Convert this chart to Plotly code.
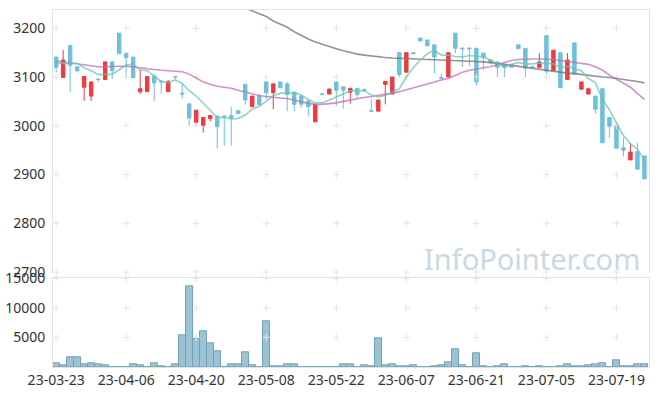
import plotly.graph_objects as go

# ---- data ----
tick_labels = ["23-03-23", "23-04-06", "23-04-20", "23-05-08", "23-05-22",
               "23-06-07", "23-06-21", "23-07-05", "23-07-19"]
tick_pos = [0, 10, 20, 30, 40, 50, 60, 70, 80]

opens = [3141, 3099, 3165, 3121, 3079, 3061, 3096, 3095, 3131, 3190,
         3149, 3141, 3070, 3070, 3102, 3092, 3070, 3101, 3067, 3045,
         3007, 3001, 3015, 3020, 3020, 3021, 3031, 3085, 3039, 3061,
         3090, 3068, 3090, 3086, 3069, 3061, 3051, 3008, 3065.5, 3065,
         3090, 3080, 3069, 3077, 3074, 3031, 3030, 3085, 3065, 3150,
         3110, 3150, 3180, 3176, 3166, 3099, 3100, 3190, 3159.5, 3159.5,
         3159, 3149, 3135, 3131, 3124, 3125, 3166, 3159, 3121, 3120,
         3185, 3113, 3150, 3095, 3170, 3075, 3065, 3061, 3076, 3017,
         3001, 2955, 2930, 2947, 2938]
highs = [3141, 3155, 3165, 3121, 3101, 3090, 3096, 3131, 3131, 3190,
         3149, 3141, 3115, 3101, 3106, 3092, 3094, 3101, 3088, 3045,
         3032, 3017, 3021, 3020, 3021, 3039, 3031, 3085, 3061, 3065,
         3090, 3086, 3090, 3090, 3069, 3061, 3051, 3044, 3065.5, 3075.5,
         3090, 3080, 3077, 3077, 3077, 3054, 3053, 3091, 3100, 3150,
         3150, 3150, 3180, 3176, 3166, 3106, 3150, 3190, 3159.5, 3159.5,
         3159, 3149, 3135, 3131, 3126, 3125, 3166, 3159, 3121, 3149,
         3185, 3155, 3150, 3149, 3170, 3090, 3076, 3061, 3076, 3017,
         3001, 2975, 2965, 2965, 2938]
lows = [3110, 3099, 3070, 3109, 3051, 3051, 3090, 3095, 3096, 3148,
        3099, 3099, 3065, 3070, 3051, 3066, 3070, 3095, 3056, 3000,
        3000, 2986, 3009, 2954, 2959, 2959, 3025, 3043, 3039, 3043,
        3054, 3034, 3078, 3030, 3030, 3037, 3019, 3008, 3064, 3065,
        3041, 3035, 3045, 3057, 3072, 3030, 3030, 3044, 3065, 3100,
        3110, 3148, 3174, 3164, 3107, 3097, 3100, 3149, 3121, 3122,
        3082, 3115, 3126, 3100, 3100, 3120, 3158, 3100, 3119, 3120,
        3106, 3113, 3078, 3095, 3106, 3075, 3065, 3025, 2965, 2975,
        2954, 2937, 2930, 2911, 2891]
closes = [3120, 3135, 3124, 3113, 3101, 3090, 3095, 3131, 3113, 3148,
          3140, 3099, 3076, 3101, 3088, 3090, 3091, 3100, 3065, 3016,
          3032, 3017, 3021, 2998, 3017, 3016, 3025, 3053, 3061, 3043,
          3068, 3086, 3078, 3064, 3044, 3044, 3039, 3044, 3064, 3075.5,
          3073, 3073, 3077, 3064, 3072, 3030, 3053, 3091, 3100, 3105,
          3150, 3148, 3174, 3164, 3141, 3097, 3150, 3159, 3158, 3158,
          3090, 3140, 3130, 3120, 3120, 3120, 3158, 3118, 3120, 3131,
          3112, 3155, 3078, 3135, 3106, 3090, 3076, 3034, 2965, 2999,
          2954, 2950, 2946, 2911, 2891]

ma5 = [3128, 3128, 3129, 3128, 3119, 3113, 3105, 3106, 3106, 3115,
       3125, 3126, 3115, 3113, 3101, 3091, 3089, 3094, 3087, 3072,
       3061, 3046, 3030, 3017, 3017, 3014, 3015, 3022, 3034, 3040,
       3050, 3062, 3067, 3068, 3068, 3063, 3054, 3047, 3047, 3053,
       3059, 3066, 3072, 3072, 3072, 3063, 3059, 3062, 3069, 3076,
       3100, 3119, 3135, 3148, 3155, 3145, 3145, 3142, 3141, 3144,
       3143, 3141, 3135, 3128, 3120, 3126, 3130, 3127, 3127, 3129,
       3128, 3127, 3119, 3122, 3117, 3113, 3097, 3088, 3054, 3033,
       3006, 2980, 2963, 2952, 2930]
ma20 = [3133, 3131, 3129, 3127, 3124, 3122, 3121, 3121, 3122, 3122,
        3122, 3121, 3119, 3117, 3115, 3114, 3113, 3112, 3111, 3106,
        3098, 3090, 3085, 3081, 3079, 3077, 3073, 3069, 3065, 3062,
        3060, 3058, 3057, 3056, 3052, 3049, 3046, 3044, 3044, 3045,
        3047, 3050, 3053, 3056, 3058, 3060, 3062, 3064, 3067, 3070,
        3074, 3078, 3082, 3087, 3091, 3094, 3097, 3103, 3110, 3114,
        3117, 3119, 3121, 3125, 3130, 3134, 3136, 3137, 3137, 3137,
        3137, 3136, 3134, 3132, 3130, 3129, 3126, 3121, 3114, 3104,
        3096, 3087, 3079, 3066, 3054]
ma60 = [None] * 25 + [
        3253, 3247, 3241, 3235, 3229, 3224, 3215, 3209, 3202, 3193,
        3185, 3178, 3172, 3167, 3163, 3158, 3154, 3150, 3147, 3145,
        3143, 3142, 3140, 3139, 3138.5, 3138, 3137.5, 3137, 3136, 3135.5,
        3135, 3134.5, 3134, 3133.5, 3133, 3132, 3131, 3130, 3128, 3126,
        3124, 3122, 3119, 3117, 3115, 3113, 3112, 3110, 3108, 3107,
        3105, 3103, 3101.5, 3100, 3099, 3097, 3096, 3094, 3091, 3088]

volume = [620, 340, 1640, 1640, 510, 620, 510, 340, 0, 0,
          0, 510, 340, 0, 620, 170, 0, 510, 5360, 13590,
          4900, 6030, 4000, 2650, 0, 510, 510, 2480, 340, 0,
          7730, 170, 170, 510, 510, 0, 0, 0, 0, 0,
          0, 450, 450, 0, 340, 110, 4900, 340, 510, 170,
          170, 340, 0, 0, 170, 340, 850, 2990, 340, 0,
          2310, 170, 0, 170, 510, 0, 0, 170, 0, 170,
          0, 0, 170, 450, 170, 170, 340, 510, 620, 0,
          1130, 170, 170, 510, 510]

price_ticks = [2700, 2800, 2900, 3000, 3100, 3200]
vol_ticks = [5000, 10000, 15000]
vol_tick_text = ["5000", "10000", "15000"]

# ---- styles ----
RED = "#ef3a3f"
BLUE = "#6ec1da"
GRID = "#e4e4e4"
LINE = "#e2e2e2"
idx = list(range(len(closes)))
XR = [-0.45, 84.65]

fig = go.Figure()

# grid crosses
cx, cy = [], []
for t in tick_pos:
    for p in price_ticks:
        cx.append(t); cy.append(p)
fig.add_trace(go.Scatter(x=cx, y=cy, mode="markers", xaxis="x", yaxis="y",
                         marker=dict(symbol="cross-thin", size=5,
                                     line=dict(color=GRID, width=1)),
                         hoverinfo="skip", showlegend=False, cliponaxis=False))
vx, vy = [], []
for t in tick_pos:
    for p in vol_ticks:
        vx.append(t); vy.append(p)
fig.add_trace(go.Scatter(x=vx, y=vy, mode="markers", xaxis="x2", yaxis="y2",
                         marker=dict(symbol="cross-thin", size=5,
                                     line=dict(color=GRID, width=1)),
                         hoverinfo="skip", showlegend=False, cliponaxis=False))

fig.add_trace(go.Candlestick(
    x=idx, open=opens, high=highs, low=lows, close=closes,
    xaxis="x", yaxis="y", whiskerwidth=0,
    increasing=dict(line=dict(color=RED, width=1), fillcolor=RED),
    decreasing=dict(line=dict(color=BLUE, width=1), fillcolor=BLUE),
    showlegend=False))

fig.add_trace(go.Scatter(x=idx, y=ma60, mode="lines", xaxis="x", yaxis="y",
                         line=dict(color="rgba(120,120,120,0.8)", width=1.6),
                         showlegend=False, hoverinfo="skip"))
fig.add_trace(go.Scatter(x=idx, y=ma20, mode="lines", xaxis="x", yaxis="y",
                         line=dict(color="rgba(190,110,185,0.75)", width=1.6),
                         showlegend=False, hoverinfo="skip"))
fig.add_trace(go.Scatter(x=idx, y=ma5, mode="lines", xaxis="x", yaxis="y",
                         line=dict(color="rgba(110,195,175,0.75)", width=1.6),
                         showlegend=False, hoverinfo="skip"))

fig.add_trace(go.Bar(x=idx, y=volume, xaxis="x2", yaxis="y2", width=1.0,
                     marker=dict(color="rgba(150,192,210,0.95)",
                                 line=dict(color="#72a2b9", width=1)),
                     showlegend=False, hoverinfo="skip"))

fig.add_annotation(text="InfoPointer.com", xref="paper", yref="paper",
                   x=0.988, y=0.305, xanchor="right", yanchor="middle",
                   showarrow=False,
                   font=dict(family="Noto Sans", size=29, color="rgb(200,217,228)"))

fig.update_layout(
    width=657, height=396,
    margin=dict(l=53, r=8, t=10, b=29, autoexpand=False),
    paper_bgcolor="white", plot_bgcolor="white",
    font=dict(family="Noto Sans", size=14, color="#333333"),
    bargap=0,
    xaxis=dict(domain=[0, 1], range=XR, anchor="y", side="top",
               showticklabels=False, showgrid=False, zeroline=False,
               showline=True, linecolor=LINE, ticks="", automargin=False,
               rangeslider=dict(visible=False)),
    yaxis=dict(domain=[0.2633, 1], range=[2698, 3237.5], tickvals=price_ticks,
               showgrid=False, zeroline=False, showline=True, mirror=True,
               linecolor=LINE, ticks="", ticklabelstandoff=4, automargin=False),
    xaxis2=dict(domain=[0, 1], range=XR, anchor="y2", tickvals=tick_pos,
                ticktext=tick_labels, showgrid=False, zeroline=False,
                showline=True, mirror=True, linecolor=LINE, ticks="",
                automargin=False),
    yaxis2=dict(domain=[0, 0.2485], range=[0, 15000], tickvals=vol_ticks,
                ticktext=vol_tick_text, showgrid=False, zeroline=False,
                showline=True, mirror=True, linecolor=LINE, ticks="",
                ticklabelstandoff=4, automargin=False),
)

fig.write_html("out.html", config={"displayModeBar": False},
               post_script="document.body.style.margin='0';document.body.style.overflow='hidden';")
